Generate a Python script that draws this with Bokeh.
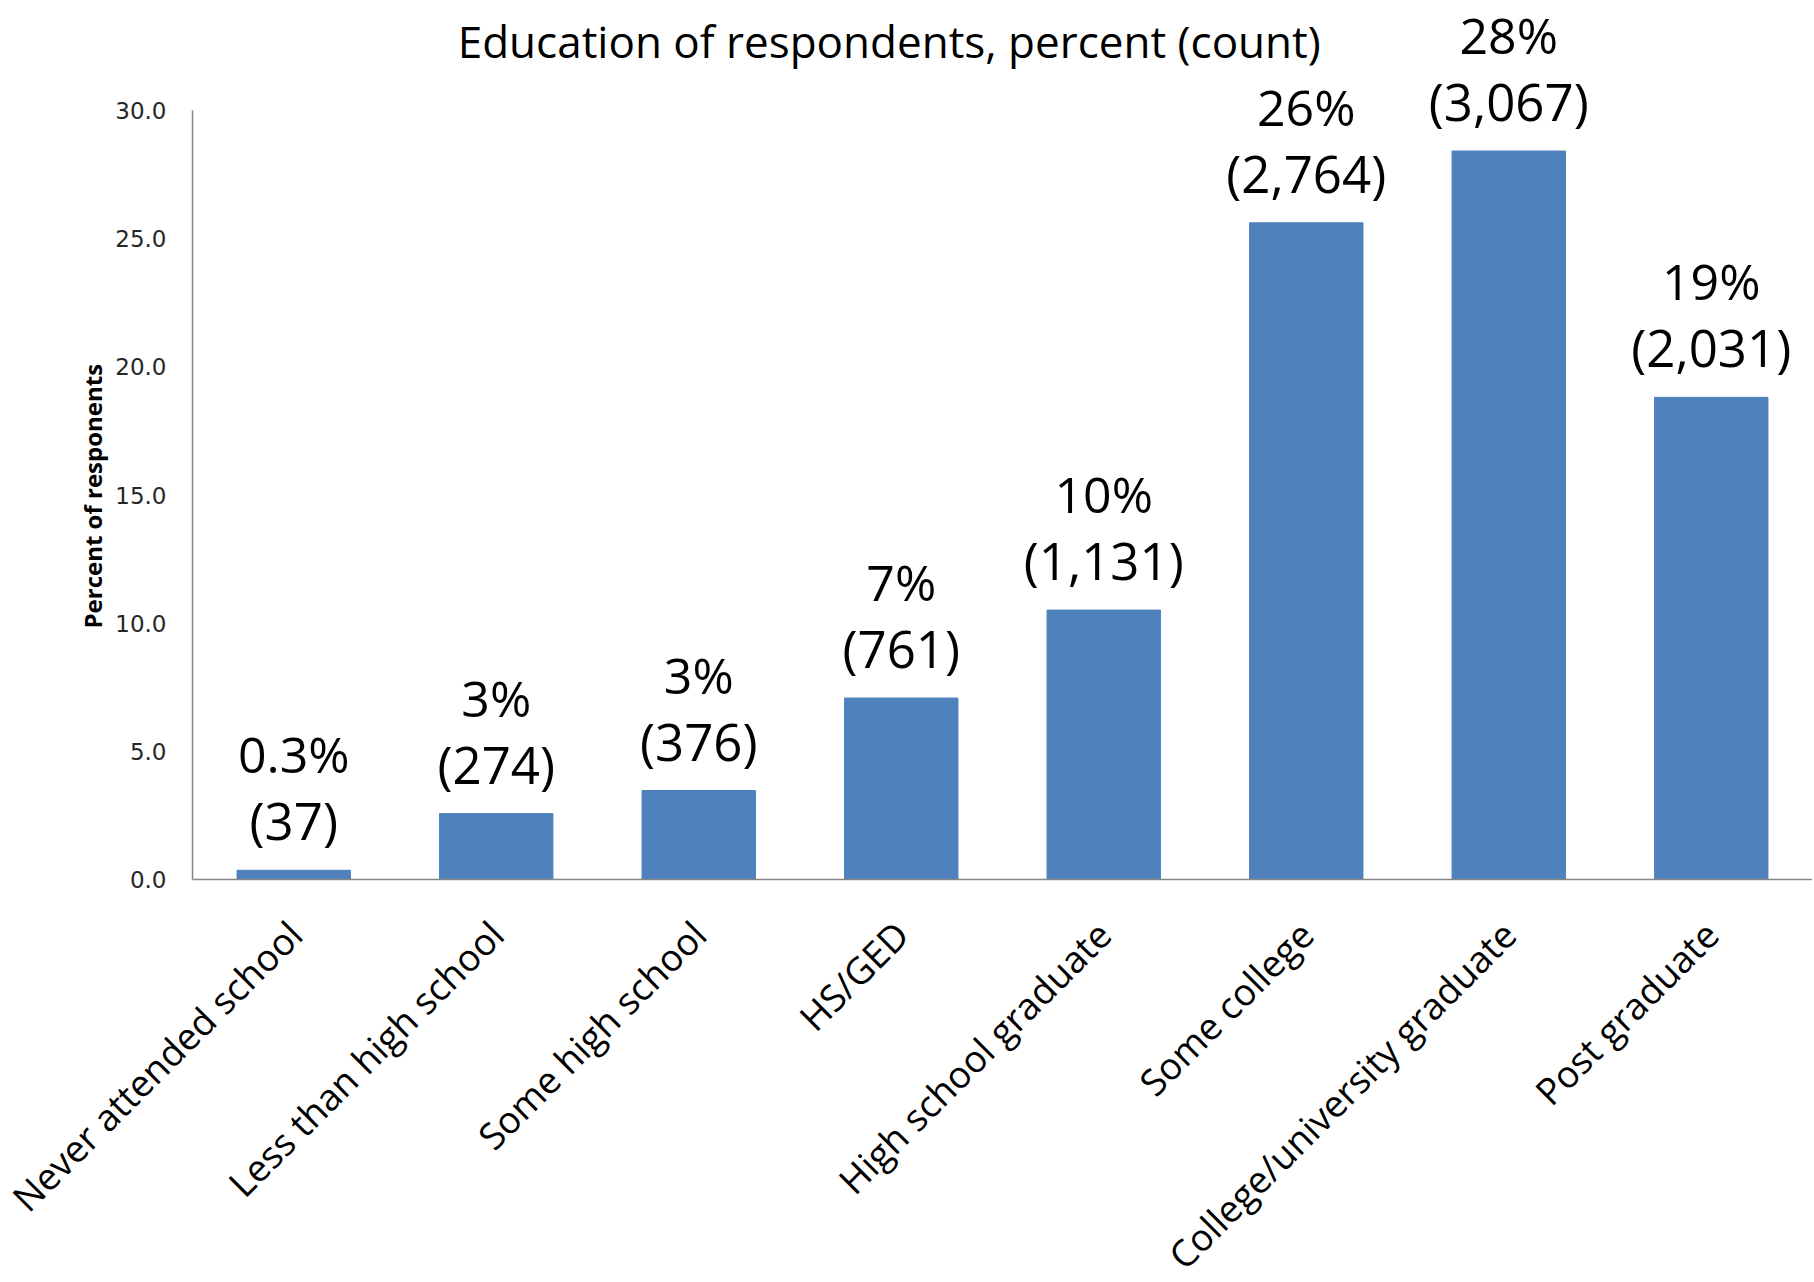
from math import pi
from bokeh.plotting import figure
from bokeh.models import ColumnDataSource, NumeralTickFormatter, FixedTicker, Title
from bokeh.core.properties import value
from bokeh.embed import file_html
from bokeh.resources import INLINE

categories = ["Never attended school", "Less than high school", "Some high school", "HS/GED",
              "High school graduate", "Some college", "College/university graduate", "Post graduate"]
percents = [0.36, 2.57, 3.47, 7.08, 10.51, 25.62, 28.42, 18.81]
pct_labels = ["0.3%", "3%", "3%", "7%", "10%", "26%", "28%", "19%"]
counts = [37, 274, 376, 761, 1131, 2764, 3067, 2031]
y_ticks = [0, 5, 10, 15, 20, 25, 30]
title_text = "Education of respondents, percent (count)"
y_label = "Percent of responents"

FONT = "Open Sans"

# layout (pixels): frame from top of canvas to x-axis; y=30 sits 769px above the axis
FRAME_H = 879
AXIS_H = 769
Y_TOP = 30 * FRAME_H / AXIS_H

src = ColumnDataSource(dict(
    cat=categories,
    val=percents,
    pct=pct_labels,
    cnt=["({:,})".format(c) for c in counts],
))

p = figure(x_range=categories, y_range=(0, Y_TOP), output_backend="svg", toolbar_location=None,
           frame_width=1620, frame_height=FRAME_H, min_border_left=192, min_border_right=0,
           min_border_top=0, min_border_bottom=400, background_fill_color="white",
           border_fill_color="white", outline_line_color=None)

p.vbar(x="cat", top="val", width=0.56, source=src, fill_color="#4F81BD", line_color="#4F81BD")

p.text(x="cat", y="val", text="cnt", source=src, y_offset=-50, text_align="center",
       text_baseline="alphabetic", text_font=value(FONT), text_font_size="51px", text_color="black")
p.text(x="cat", y="val", text="pct", source=src, y_offset=-116, text_align="center",
       text_baseline="alphabetic", text_font=value(FONT), text_font_size="50px", text_color="black")

# title, placed in the empty top band of the frame
p.text(x=[categories[3]], y=[Y_TOP * (FRAME_H - 40) / FRAME_H], text=[title_text], x_offset=-12,
       text_align="center", text_baseline="alphabetic", text_font=value(FONT),
       text_font_size="44px", text_color="black")

p.xgrid.grid_line_color = None
p.ygrid.grid_line_color = None

# y axis
p.yaxis.bounds = (0, 30)
p.yaxis.ticker = FixedTicker(ticks=y_ticks)
p.yaxis.formatter = NumeralTickFormatter(format="0.0")
p.yaxis.major_tick_line_color = None
p.yaxis.minor_tick_line_color = None
p.yaxis.axis_line_color = "#868686"
p.yaxis.axis_line_width = 1.5
p.yaxis.major_label_text_font = "DejaVu Sans"
p.yaxis.major_label_text_font_size = "23px"
p.yaxis.major_label_text_color = "#262626"
p.yaxis.major_label_standoff = 20

# y axis title, placed on the left next to the axis and centred on the 0-30 span
ytitle = Title(text=y_label, align="left", offset=251, standoff=8, text_font=FONT,
               text_font_style="bold", text_font_size="24px", text_color="black")
p.add_layout(ytitle, "left")

# x axis
p.xaxis.major_tick_line_color = None
p.xaxis.minor_tick_line_color = None
p.xaxis.axis_line_color = "#868686"
p.xaxis.axis_line_width = 1.5
p.xaxis.major_label_orientation = pi / 4
p.xaxis.major_label_text_font = FONT
p.xaxis.major_label_text_font_size = "37px"
p.xaxis.major_label_text_color = "black"
p.xaxis.major_label_standoff = 42

open("out.html", "w").write(file_html(p, INLINE))
